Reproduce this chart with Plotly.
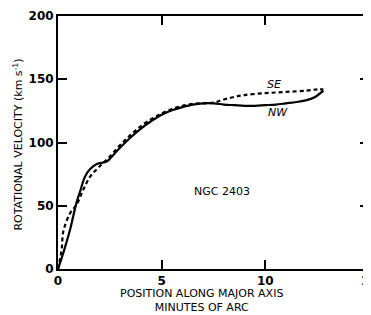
import plotly.graph_objects as go

# NW side (solid)
nw_x = [0, 0.26, 0.58, 0.9, 1.06, 1.3, 1.55, 1.87, 2.35, 2.66, 3.0, 3.5, 4.0, 4.5, 5.0, 5.5,
        6.0, 6.5, 7.0, 7.5, 8.0, 8.5, 9.0, 9.5, 10.0, 10.5, 11.0, 11.5, 12.0, 12.4, 12.8]
nw_y = [0, 13, 31, 53, 61, 73, 79, 83, 85, 90, 96, 104, 111, 117, 122, 125.5,
        128, 130, 131, 131, 130, 129.5, 129, 129, 129.5, 130, 131, 132, 133.5, 136, 141]

# SE side (dashed)
se_x = [0, 0.1, 0.18, 0.26, 0.58, 0.9, 1.2, 1.55, 2.0, 2.5, 3.0, 3.5, 4.0, 4.5, 5.0, 5.5,
        6.0, 6.5, 7.0, 7.5, 8.0, 8.5, 9.0, 10.0, 11.0, 12.0, 12.5, 12.8]
se_y = [0, 8, 16, 30, 44, 51, 62, 73, 81, 89, 98, 106, 113, 118.5, 123, 126.5,
        129, 130.5, 131, 131.5, 134, 136, 137.5, 139, 140, 141, 142, 142]

x_ticks = [0, 5, 10, 15]
y_ticks = [0, 50, 100, 150, 200]

font = "DejaVu Sans"

fig = go.Figure()
fig.add_trace(go.Scatter(x=nw_x, y=nw_y, mode="lines", name="NW",
                         line=dict(color="black", width=2.2, shape="spline")))
fig.add_trace(go.Scatter(x=se_x, y=se_y, mode="lines", name="SE",
                         line=dict(color="black", width=2.2, dash="4px,3px", shape="spline")))

axis_common = dict(showgrid=False, zeroline=False, showline=True, linecolor="black",
                   linewidth=2, mirror="ticks", ticks="inside", ticklen=9, tickwidth=2,
                   tickcolor="black", automargin=False,
                   tickfont=dict(family=font, size=12, color="black", weight="bold"))

fig.update_xaxes(range=[0, 15], tickvals=x_ticks, ticktext=[str(v) for v in x_ticks],
                 **axis_common)
fig.update_yaxes(range=[0, 200], tickvals=y_ticks, ticktext=[str(v) for v in y_ticks],
                 **axis_common)

ann_font = dict(family=font, size=11, color="black")
fig.add_annotation(x=10.4, y=146, text="<i>SE</i>", showarrow=False, font=ann_font)
fig.add_annotation(x=10.6, y=124, text="<i>NW</i>", showarrow=False, font=ann_font)
fig.add_annotation(x=7.9, y=61.5, text="NGC 2403", showarrow=False, font=ann_font)
fig.add_annotation(xref="paper", yref="paper", x=0.46, y=-0.062, yanchor="top",
                   text="POSITION ALONG MAJOR AXIS<br>MINUTES OF ARC", showarrow=False,
                   font=ann_font)
fig.add_annotation(xref="paper", yref="paper", x=-0.13, y=0.49, textangle=-90,
                   xanchor="center", yanchor="middle",
                   text="ROTATIONAL VELOCITY (km s<sup>-1</sup>)", showarrow=False,
                   font=ann_font)

# page body has an 8px margin; the figure is offset by it inside the 371x315 window
fig.update_layout(width=371, height=307, margin=dict(l=50, r=10, t=8, b=46, autoexpand=False),
                  paper_bgcolor="white", plot_bgcolor="white", showlegend=False)

fig.write_html("out.html")
